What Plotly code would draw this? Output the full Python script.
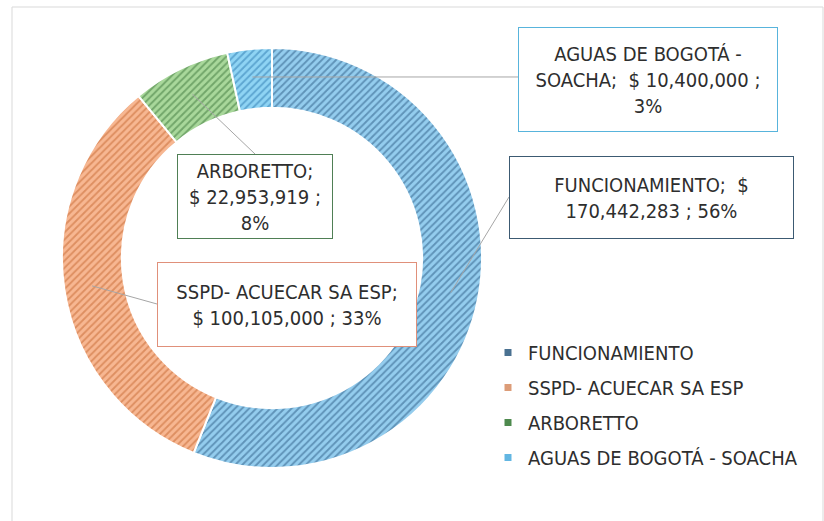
import math
import plotly.graph_objects as go

W, H = 824, 521

categories = ["FUNCIONAMIENTO", "SSPD- ACUECAR SA ESP", "ARBORETTO", "AGUAS DE BOGOTÁ - SOACHA"]
values = [170442283, 100105000, 22953919, 10400000]
label_texts = [
    "FUNCIONAMIENTO;  $<br>170,442,283 ; 56%",
    "SSPD- ACUECAR SA ESP;<br>$ 100,105,000 ; 33%",
    "ARBORETTO;<br>$ 22,953,919 ;<br>8%",
    "AGUAS DE BOGOTÁ -<br>SOACHA;  $ 10,400,000 ;<br>3%",
]

bg_colors = ["#94cdee", "#f7b792", "#a9d89b", "#8fd4f4"]
fg_colors = ["#2a5a82", "#c4662f", "#3a7337", "#2b78ae"]
legend_colors = ["#4a7191", "#dc9c78", "#4e8a4e", "#62b6e2"]
box_colors = ["#3c5a72", "#e0907a", "#4f7f55", "#58b4dc"]

FONT = "DejaVu Sans Condensed, Liberation Sans, sans-serif"

def px(x):
    return x / W

def py(y):
    return 1 - y / H

# donut geometry (pixels)
cx, cy, R = 272, 258, 210
hole = 0.715

fig = go.Figure()
fig.add_trace(go.Pie(
    labels=categories,
    values=values,
    hole=hole,
    sort=False,
    direction="clockwise",
    rotation=0,
    textinfo="none",
    hoverinfo="label+value+percent",
    showlegend=False,
    marker=dict(
        colors=bg_colors,
        line=dict(color="white", width=2),
        pattern=dict(shape="/", fillmode="overlay", fgcolor=fg_colors, size=5, solidity=0.38),
    ),
    domain=dict(x=[px(cx - R), px(cx + R)], y=[py(cy + R), py(cy - R)]),
))

# legend entries
for i, (name, col) in enumerate(zip(categories, legend_colors)):
    fig.add_trace(go.Scatter(
        x=[None], y=[None], mode="markers", name=name,
        legendgroup=f"g{i}",
        marker=dict(symbol="square", size=7, color=col),
    ))

# annotation boxes: (x0, y0, x1, y1) pixels and leader end point
boxes = [
    (509, 156, 794, 239, (509, 197)),
    (157, 262, 417, 347, (157, 304)),
    (177, 154, 333, 239, (255, 154)),
    (518, 27, 778, 132, (518, 79)),
]

total = sum(values)
cum = 0
shapes = []
annotations = []
rmid = (hole * R + R) / 2 + 2
for i, v in enumerate(values):
    mid = (cum + v / 2) / total * 2 * math.pi
    cum += v
    sx = cx + rmid * math.sin(mid)
    sy = cy - rmid * math.cos(mid)
    x0, y0, x1, y1, (ex, ey) = boxes[i]
    if i == 3:
        ey = sy
    shapes.append(dict(type="line", xref="paper", yref="paper",
                       x0=px(sx), y0=py(sy), x1=px(ex), y1=py(ey),
                       line=dict(color="#a6a6a6", width=1)))
    annotations.append(dict(
        xref="paper", yref="paper",
        x=px((x0 + x1) / 2), y=py((y0 + y1) / 2),
        xanchor="center", yanchor="middle",
        text=label_texts[i], showarrow=False,
        width=x1 - x0 - 2, height=y1 - y0 - 2,
        bordercolor=box_colors[i], borderwidth=1, borderpad=0,
        bgcolor="white",
        font=dict(family=FONT, size=20, color="#2e2e2e"),
        align="center",
    ))

# chart area border
shapes.append(dict(type="rect", xref="paper", yref="paper",
                   x0=px(12), y0=py(530), x1=px(823), y1=py(7),
                   line=dict(color="#d9d9d9", width=1), layer="below"))

fig.update_layout(
    width=W, height=H,
    margin=dict(l=0, r=0, t=0, b=0),
    paper_bgcolor="white", plot_bgcolor="white",
    xaxis=dict(visible=False), yaxis=dict(visible=False),
    shapes=shapes,
    annotations=annotations,
    showlegend=True,
    legend=dict(
        x=px(488), y=py(333), xanchor="left", yanchor="top",
        font=dict(family=FONT, size=20, color="#2e2e2e"),
        tracegroupgap=6, itemwidth=30, bgcolor="rgba(0,0,0,0)",
    ),
)

fig.write_html("out.html", config={"displayModeBar": False},
               post_script="document.body.style.margin='0';document.body.style.overflow='hidden';")
